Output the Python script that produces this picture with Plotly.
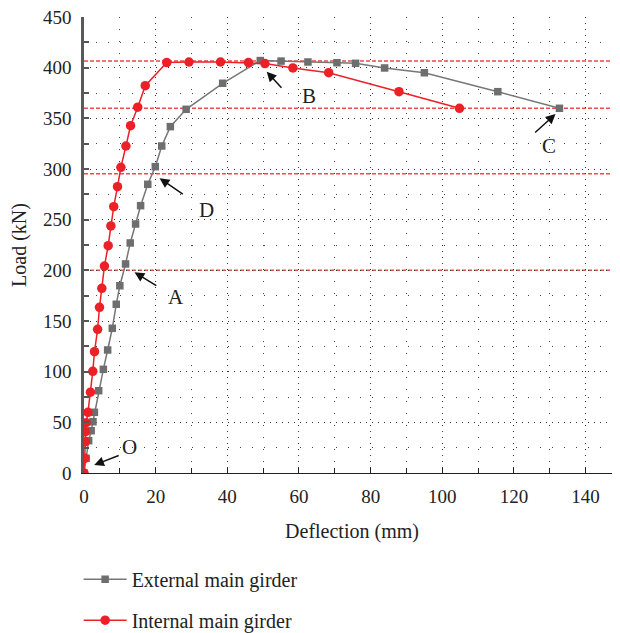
import plotly.graph_objects as go

# ---- data ----
ext_x = [0, 0.6, 1.3, 2.0, 2.5, 2.9, 4.1, 5.4, 6.6, 7.9, 9.0, 10.0, 11.6, 12.9, 14.4,
         15.8, 17.8, 19.9, 21.7, 24.1, 28.5, 38.7, 49.2, 55.0, 62.5, 70.6, 75.8, 83.9,
         95.0, 115.5, 132.7]
ext_y = [0, 14.5, 31.9, 41.7, 50.6, 59.9, 81.2, 102.3, 121.4, 142.8, 166.5, 184.8, 206.3,
         227.0, 245.7, 263.8, 284.9, 302.3, 322.7, 341.8, 358.9, 384.6, 407.0, 406.5,
         405.6, 404.9, 404.3, 399.7, 395.0, 376.3, 359.9]

int_x = [0, 0.2, 0.4, 0.4, 0.6, 1.1, 1.8, 2.45, 2.93, 3.8, 4.33, 4.97, 5.7, 6.75, 7.5,
         8.3, 9.35, 10.3, 11.7, 13.0, 15.0, 17.1, 23.1, 29.3, 38.1, 45.9, 50.5, 58.3,
         68.3, 87.9, 104.8]
int_y = [0, 14.5, 30.9, 40.8, 49.6, 59.9, 79.8, 100.3, 119.7, 141.8, 163.5, 182.3, 204.2,
         224.3, 243.8, 262.8, 282.5, 301.7, 322.7, 342.7, 361.0, 382.2, 405.0, 405.6,
         405.6, 405.0, 404.0, 399.7, 395.0, 376.3, 359.9]

ref_loads = [406.5, 360, 295.4, 200]

point_labels = ["O", "A", "D", "B", "C"]
label_pos_x = [12.6, 25.7, 34.1, 62.9, 129.9]
label_pos_y = [25.4, 174.0, 259.5, 372.0, 322.7]
arrow_head_x = [2.85, 14.1, 21.1, 51.0, 131.6]
arrow_head_y = [7.9, 198.0, 290.8, 396.0, 354.3]
arrow_tail_x = [10.1, 20.6, 28.0, 55.5, 125.5]
arrow_tail_y = [17.8, 183.9, 274.3, 378.7, 334.6]

x_ticks = [0, 20, 40, 60, 80, 100, 120, 140]
y_ticks = [0, 50, 100, 150, 200, 250, 300, 350, 400, 450]

SERIF = "Liberation Serif, Times New Roman, serif"
RED = "#ec2027"
GRAY = "#6d6e70"

fig = go.Figure()
fig.add_trace(go.Scatter(
    x=ext_x, y=ext_y, mode="lines+markers", name="External main girder",
    legendgroup="g1",
    line=dict(color="#777777", width=1.5),
    marker=dict(symbol="square", size=7.5, color=GRAY),
))
fig.add_trace(go.Scatter(
    x=int_x, y=int_y, mode="lines+markers", name="Internal main girder",
    legendgroup="g2",
    line=dict(color=RED, width=1.5),
    marker=dict(symbol="circle", size=9.5, color=RED),
))

for yv in ref_loads:
    fig.add_shape(type="line", xref="paper", yref="y", x0=0, x1=1, y0=yv, y1=yv,
                  line=dict(color="#f04a4a", width=1.5, dash="4px,2px"), layer="between")

for t, lx, ly in zip(point_labels, label_pos_x, label_pos_y):
    fig.add_annotation(x=lx, y=ly, text=t, showarrow=False,
                       font=dict(family=SERIF, size=21, color="#222"))
for hx, hy, tx, ty in zip(arrow_head_x, arrow_head_y, arrow_tail_x, arrow_tail_y):
    fig.add_annotation(x=hx, y=hy, ax=tx, ay=ty, axref="x", ayref="y", text="",
                       showarrow=True, arrowhead=2, arrowsize=1.3, arrowwidth=1.5,
                       arrowcolor="#111")

fig.update_layout(
    width=612, height=625,
    margin=dict(l=76, r=0, t=9, b=160, autoexpand=False),
    paper_bgcolor="white", plot_bgcolor="white",
    font=dict(family=SERIF, size=19, color="#222"),
    showlegend=True,
    legend=dict(x=-0.01, y=-0.19, xanchor="left", yanchor="top",
                font=dict(family=SERIF, size=20, color="#222"),
                itemwidth=43,
                tracegroupgap=12, bgcolor="rgba(0,0,0,0)"),
    xaxis=dict(
        range=[0, 149.6], tickvals=x_ticks, ticks="inside", ticklen=5, tickwidth=1,
        tickcolor="#222", showline=True, linecolor="#222", linewidth=1.2,
        zeroline=False, showgrid=True, gridcolor="#333", gridwidth=1,
        griddash="1px,5px", automargin=False, ticklabeloverflow="allow",
        minor=dict(dtick=10, ticks="inside", ticklen=5, tickcolor="#222",
                   showgrid=True, gridcolor="#444", griddash="1px,11px", gridwidth=1),
        title=dict(text="Deflection (mm)", font=dict(family=SERIF, size=20), standoff=18),
        tickfont=dict(family=SERIF, size=19), ticklabelstandoff=6,
    ),
    yaxis=dict(
        range=[0, 450], tickvals=y_ticks, ticks="inside", ticklen=5, tickwidth=1.5,
        tickcolor="#555", showline=True, linecolor="#5a5a5a", linewidth=2.5,
        zeroline=False, showgrid=True, gridcolor="#333", gridwidth=1,
        griddash="1px,5px", automargin=False, ticklabeloverflow="allow",
        minor=dict(dtick=25, ticks="inside", ticklen=5, tickcolor="#555",
                   showgrid=True, gridcolor="#444", griddash="1px,11px", gridwidth=1),
        title=dict(text="Load (kN)", font=dict(family=SERIF, size=20), standoff=14),
        tickfont=dict(family=SERIF, size=19), ticklabelstandoff=6,
    ),
)

fig.write_html("out.html")
